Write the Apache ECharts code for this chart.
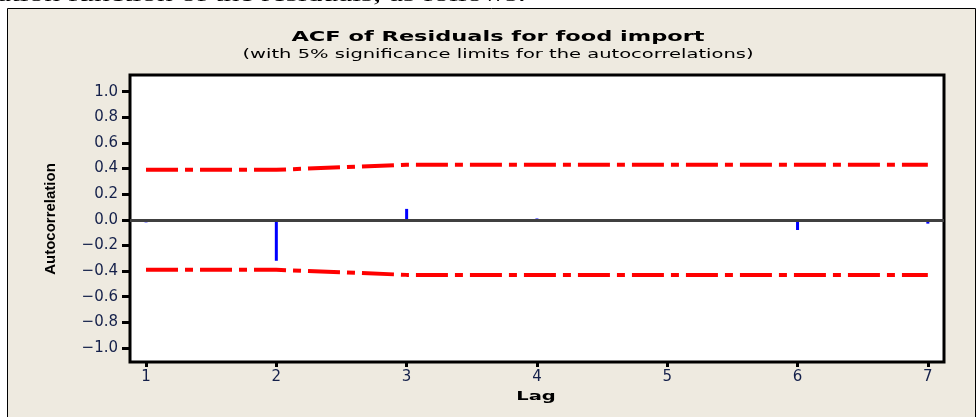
<!DOCTYPE html>
<html><head><meta charset="utf-8">
<script src="https://cdn.jsdelivr.net/npm/echarts@6/dist/echarts.min.js"></script>
<style>html,body{margin:0;padding:0;background:#fff}#c{width:978px;height:417px}</style>
</head><body><div id="c"></div>
<script>
const lags = [1, 2, 3, 4, 5, 6, 7];
const acf = [-0.02, -0.32, 0.085, 0.01, 0.0, -0.08, -0.03];
const upperLimit = [0.39, 0.39, 0.43, 0.43, 0.43, 0.43, 0.43];
const lowerLimit = [-0.39, -0.39, -0.43, -0.43, -0.43, -0.43, -0.43];
const yTicks = [-1.0, -0.8, -0.6, -0.4, -0.2, 0.0, 0.2, 0.4, 0.6, 0.8, 1.0];
const xTicks = [1, 2, 3, 4, 5, 6, 7];

const chart = echarts.init(document.getElementById('c'));
const labelColor = '#14204a';
const limStyle = {color: '#ff0000', width: 4, type: [32, 7, 8, 7], cap: 'butt'};
chart.setOption({
  backgroundColor: '#ffffff',
  animation: false,
  graphic: [
    {type: 'rect', z: -10, shape: {x: 7.5, y: 8.5, width: 968, height: 420},
     style: {fill: '#eeeae0', stroke: '#000', lineWidth: 1}},
    {type: 'text', z: -20, x: -3, y: -5, scaleX: 1.5,
     style: {text: 'ation function of the residuals, as follows:', font: '21px "Liberation Serif"', fill: '#000', textVerticalAlign: 'middle'}},
    {type: 'text', x: 498, y: 37, scaleX: 1.55,
     style: {text: 'ACF of Residuals for food import', font: 'bold 14.5px "DejaVu Sans"', fill: '#000', textAlign: 'center', textVerticalAlign: 'middle'}},
    {type: 'text', x: 498, y: 55, scaleX: 1.56,
     style: {text: '(with 5% significance limits for the autocorrelations)', font: '12.5px "DejaVu Sans"', fill: '#000', textAlign: 'center', textVerticalAlign: 'middle'}},
    {type: 'text', x: 51, y: 219, rotation: Math.PI / 2,
     style: {text: 'Autocorrelation', font: 'bold 15px "Liberation Sans"', fill: '#000', textAlign: 'center', textVerticalAlign: 'middle'}},
    {type: 'text', x: 536, y: 397, scaleX: 1.5,
     style: {text: 'Lag', font: 'bold 13px "DejaVu Sans"', fill: '#000', textAlign: 'center', textVerticalAlign: 'middle'}}
  ],
  grid: {left: 130, right: 34, top: 75, bottom: 55, show: true, backgroundColor: '#fff', borderColor: '#000', borderWidth: 3},
  xAxis: {
    type: 'value', min: 0.877, max: 7.124,
    axisLine: {show: false, onZero: false},
    splitLine: {show: false},
    axisTick: {show: true, customValues: xTicks, length: 5, lineStyle: {color: '#000', width: 3}},
    axisLabel: {customValues: xTicks, margin: 8, color: labelColor, fontSize: 15, fontFamily: 'DejaVu Sans'}
  },
  yAxis: {
    type: 'value', min: -1.11, max: 1.13,
    axisLine: {show: false},
    splitLine: {show: false},
    axisTick: {show: true, customValues: yTicks, length: 8, lineStyle: {color: '#000', width: 3}},
    axisLabel: {customValues: yTicks, margin: 12, color: labelColor, fontSize: 15, fontFamily: 'DejaVu Sans',
      formatter: v => (v < 0 ? '\u2212' : '') + Math.abs(v).toFixed(1)}
  },
  series: [
    {type: 'line', data: lags.map((l, i) => [l, upperLimit[i]]), showSymbol: false, symbol: 'none', lineStyle: limStyle, z: 3},
    {type: 'line', data: lags.map((l, i) => [l, lowerLimit[i]]), showSymbol: false, symbol: 'none', lineStyle: limStyle, z: 3},
    {type: 'bar', data: lags.map((l, i) => [l, acf[i]]), barWidth: 3, itemStyle: {color: '#0000ff'}, z: 4,
     markLine: {silent: true, symbol: 'none', label: {show: false}, data: [{yAxis: 0}],
       lineStyle: {color: '#404040', width: 3, type: 'solid'}}}
  ]
});
</script></body></html>
